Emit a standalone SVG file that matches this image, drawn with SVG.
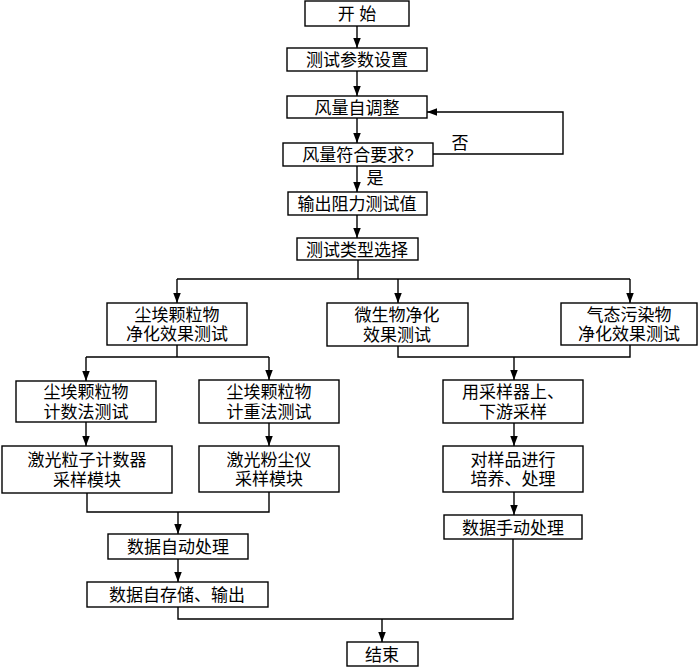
<svg xmlns="http://www.w3.org/2000/svg" width="700" height="667" viewBox="0 0 700 667">
<defs>
<marker id="ah" markerUnits="userSpaceOnUse" markerWidth="10" markerHeight="14" refX="12" refY="4.5" orient="auto" viewBox="0 0 12 9">
<path d="M0,0 L12,4.5 L0,9 Z" fill="#000"/>
</marker>
<style>
rect{fill:#fff;stroke:#000;stroke-width:1.4}
text{font-family:"Liberation Sans","Noto Sans CJK SC",sans-serif;font-size:17px;fill:#000;text-anchor:middle}
.c path{fill:none;stroke:#000;stroke-width:1.4}
.a{marker-end:url(#ah)}
</style>
</defs>
<rect x="0" y="0" width="700" height="667" style="fill:#fff;stroke:none"/>
<g class="c" id="connectors">
<path class="a" d="M357,26 V48"/>
<path class="a" d="M357,71 V96"/>
<path class="a" d="M357,118 V143"/>
<path class="a" d="M357,166 V192"/>
<path class="a" d="M357,215 V238"/>
<path class="a" d="M433,154 H563 V112 H427"/>
<path d="M358,260 V279 M177,279 H630"/>
<path class="a" d="M177,279 V303"/>
<path class="a" d="M398,279 V303"/>
<path class="a" d="M630,279 V303"/>
<path d="M177,345 V357 M86,357 H269"/>
<path class="a" d="M86,357 V381"/>
<path class="a" d="M269,357 V380"/>
<path class="a" d="M86,422 V446"/>
<path class="a" d="M269,423 V446"/>
<path d="M87,493 V512 H269 V492"/>
<path class="a" d="M178,512 V534"/>
<path class="a" d="M178,559 V582"/>
<path d="M178,607 V619 H513 V539"/>
<path class="a" d="M382,619 V642"/>
<path d="M398,346 V357 H630 V345"/>
<path class="a" d="M514,357 V380"/>
<path class="a" d="M514,423 V446"/>
<path class="a" d="M514,492 V515"/>
<text x="375" y="184">是</text>
<text x="460" y="149">否</text>
</g>
<g id="start"><rect x="305" y="1" width="104" height="25"/><text x="357" y="20">开 始</text></g>
<g id="params"><rect x="287" y="48" width="140" height="23"/><text x="357" y="66">测试参数设置</text></g>
<g id="adjust"><rect x="287" y="96" width="140" height="22"/><text x="357" y="113.5">风量自调整</text></g>
<g id="check"><rect x="283" y="143" width="150" height="23"/><text x="358" y="161">风量符合要求?</text></g>
<g id="output"><rect x="288" y="192" width="139" height="23"/><text x="357" y="210">输出阻力测试值</text></g>
<g id="type"><rect x="297" y="238" width="121" height="22"/><text x="357" y="255.5">测试类型选择</text></g>
<g id="dust"><rect x="107" y="303" width="140" height="42"/><text x="177" y="320.8">尘埃颗粒物<tspan x="177" dy="19.5">净化效果测试</tspan></text></g>
<g id="micro"><rect x="327" y="303" width="141" height="43"/><text x="397" y="321.3">微生物净化<tspan x="397" dy="19.5">效果测试</tspan></text></g>
<g id="gas"><rect x="561" y="303" width="136" height="42"/><text x="629" y="320.8">气态污染物<tspan x="629" dy="19.5">净化效果测试</tspan></text></g>
<g id="count"><rect x="16" y="381" width="140" height="41"/><text x="86" y="398.3">尘埃颗粒物<tspan x="86" dy="19.5">计数法测试</tspan></text></g>
<g id="weight"><rect x="199" y="380" width="140" height="43"/><text x="269" y="398.3">尘埃颗粒物<tspan x="269" dy="19.5">计重法测试</tspan></text></g>
<g id="laser1"><rect x="2" y="446" width="170" height="47"/><text x="87" y="466.3">激光粒子计数器<tspan x="87" dy="19.5">采样模块</tspan></text></g>
<g id="laser2"><rect x="199" y="446" width="140" height="46"/><text x="269" y="465.8">激光粉尘仪<tspan x="269" dy="19.5">采样模块</tspan></text></g>
<g id="sampler"><rect x="443" y="380" width="140" height="43"/><text x="513" y="398.3">用采样器上、<tspan x="513" dy="19.5">下游采样</tspan></text></g>
<g id="culture"><rect x="443" y="446" width="140" height="46"/><text x="513" y="465.8">对样品进行<tspan x="513" dy="19.5">培养、处理</tspan></text></g>
<g id="manual"><rect x="444" y="515" width="138" height="24"/><text x="513" y="533.5">数据手动处理</text></g>
<g id="auto"><rect x="108" y="534" width="140" height="25"/><text x="178" y="553">数据自动处理</text></g>
<g id="store"><rect x="87" y="582" width="181" height="25"/><text x="177" y="601">数据自存储、输出</text></g>
<g id="end"><rect x="347" y="642" width="71" height="24"/><text x="382" y="660.5">结束</text></g>
</svg>
